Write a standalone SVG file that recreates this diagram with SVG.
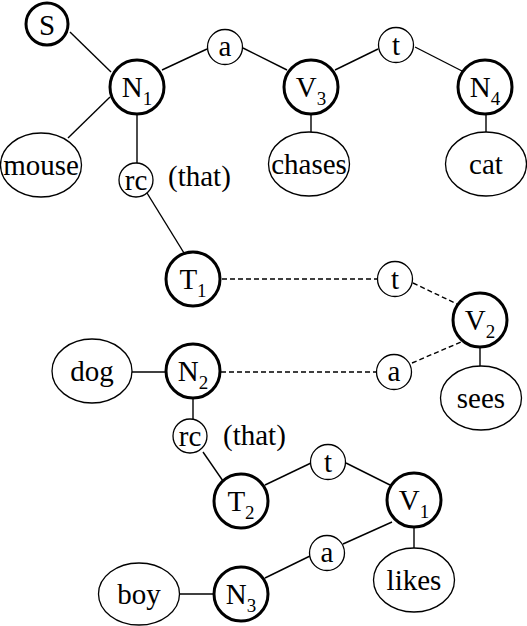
<svg xmlns="http://www.w3.org/2000/svg" width="527" height="626" viewBox="0 0 527 626">
<style>
text{font-size:29px;fill:#000;text-anchor:middle}
.sub{font-size:19px}
.big{fill:#fff;stroke:#000;stroke-width:3}
.sm{fill:#fff;stroke:#000;stroke-width:1.3}
.el{fill:#fff;stroke:#000;stroke-width:1.3}
.ln line{stroke:#000;stroke-width:1.4}
.ln line.d{stroke-dasharray:5,3}
.free{text-anchor:start}
</style>
<rect width="527" height="626" fill="#fff"/>
<g id="connectors" class="ln">
<line x1="70" y1="32" x2="111" y2="72"/>
<line x1="162" y1="70" x2="207" y2="49"/>
<line x1="243" y1="48" x2="287" y2="70"/>
<line x1="335" y1="70" x2="378" y2="49"/>
<line x1="415" y1="47" x2="462" y2="71"/>
<line x1="110" y1="97" x2="68" y2="138"/>
<line x1="137" y1="114" x2="137" y2="163"/>
<line x1="147" y1="193" x2="184" y2="253"/>
<line x1="311" y1="113" x2="311" y2="133"/>
<line x1="486" y1="113" x2="486" y2="133"/>
<line class="d" x1="222" y1="279" x2="377" y2="279"/>
<line class="d" x1="413" y1="283" x2="457" y2="304"/>
<line class="d" x1="221" y1="372" x2="376" y2="372"/>
<line class="d" x1="412" y1="363" x2="461" y2="342"/>
<line x1="480" y1="347" x2="480" y2="367"/>
<line x1="132" y1="372" x2="166" y2="372"/>
<line x1="193" y1="398" x2="193" y2="420"/>
<line x1="203" y1="452" x2="223" y2="481"/>
<line x1="265" y1="485" x2="311" y2="463"/>
<line x1="346" y1="463" x2="390" y2="485"/>
<line x1="392" y1="522" x2="343" y2="544"/>
<line x1="310" y1="556" x2="265" y2="578"/>
<line x1="180" y1="594" x2="214" y2="594"/>
<line x1="414" y1="527" x2="414" y2="548"/>
</g>
<g font-family="Liberation Serif, Times New Roman, DejaVu Serif, serif">
<g id="S"><circle class="big" cx="47" cy="24" r="21"/><text x="47" y="35">S</text></g>
<g id="N1"><circle class="big" cx="137" cy="87" r="27"/><text x="137" y="97">N<tspan class="sub" dy="8">1</tspan></text></g>
<g id="a1"><circle class="sm" cx="225" cy="47" r="17.5"/><text x="225" y="56">a</text></g>
<g id="V3"><circle class="big" cx="311" cy="87" r="27"/><text x="311" y="97">V<tspan class="sub" dy="8">3</tspan></text></g>
<g id="t1"><circle class="sm" cx="396" cy="45" r="17.5"/><text x="396" y="55">t</text></g>
<g id="N4"><circle class="big" cx="485" cy="87" r="27"/><text x="485" y="97">N<tspan class="sub" dy="8">4</tspan></text></g>
<g id="mouse"><ellipse class="el" cx="41" cy="165" rx="40.5" ry="32"/><text x="41" y="175">mouse</text></g>
<g id="chases"><ellipse class="el" cx="309" cy="164" rx="40.5" ry="32"/><text x="309" y="174">chases</text></g>
<g id="cat"><ellipse class="el" cx="486" cy="164" rx="40.5" ry="32"/><text x="486" y="174">cat</text></g>
<g id="rc1"><circle class="sm" cx="136" cy="180" r="17"/><text x="136" y="190">rc</text><text class="free" x="168" y="186">(that)</text></g>
<g id="T1"><circle class="big" cx="193" cy="279" r="27"/><text x="193" y="289">T<tspan class="sub" dy="8">1</tspan></text></g>
<g id="t2"><circle class="sm" cx="395" cy="279" r="17.5"/><text x="395" y="289">t</text></g>
<g id="V2"><circle class="big" cx="480" cy="320" r="27"/><text x="480" y="330">V<tspan class="sub" dy="8">2</tspan></text></g>
<g id="sees"><ellipse class="el" cx="481" cy="398" rx="40.5" ry="32"/><text x="481" y="408">sees</text></g>
<g id="dog"><ellipse class="el" cx="92" cy="371" rx="40" ry="32"/><text x="92" y="381">dog</text></g>
<g id="N2"><circle class="big" cx="193" cy="371" r="27"/><text x="193" y="381">N<tspan class="sub" dy="8">2</tspan></text></g>
<g id="a2"><circle class="sm" cx="394" cy="372" r="17.5"/><text x="394" y="381">a</text></g>
<g id="rc2"><circle class="sm" cx="190" cy="436" r="17"/><text x="190" y="446">rc</text><text class="free" x="223" y="445">(that)</text></g>
<g id="T2"><circle class="big" cx="241" cy="501" r="27"/><text x="241" y="511">T<tspan class="sub" dy="8">2</tspan></text></g>
<g id="t3"><circle class="sm" cx="328" cy="462" r="17.5"/><text x="328" y="472">t</text></g>
<g id="V1"><circle class="big" cx="414" cy="500" r="27"/><text x="414" y="510">V<tspan class="sub" dy="8">1</tspan></text></g>
<g id="a3"><circle class="sm" cx="327" cy="553" r="17.5"/><text x="327" y="562">a</text></g>
<g id="likes"><ellipse class="el" cx="414" cy="580" rx="40.5" ry="32"/><text x="414" y="590">likes</text></g>
<g id="boy"><ellipse class="el" cx="139" cy="594" rx="40.5" ry="31"/><text x="139" y="604">boy</text></g>
<g id="N3"><circle class="big" cx="241" cy="594" r="27"/><text x="241" y="604">N<tspan class="sub" dy="8">3</tspan></text></g>
</g>
</svg>
